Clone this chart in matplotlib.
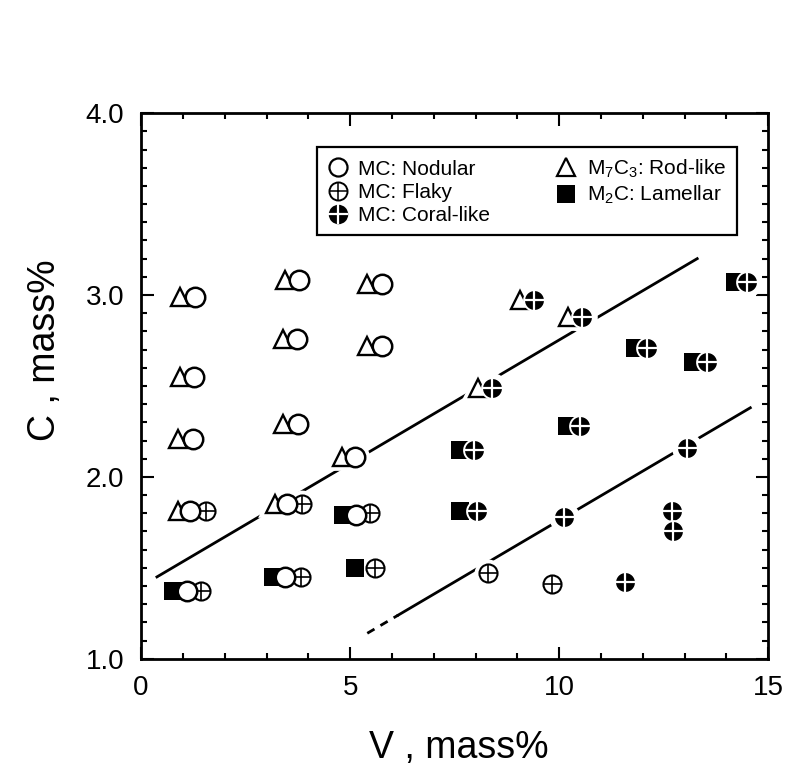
import matplotlib
matplotlib.use("Agg")
import matplotlib.pyplot as plt
from matplotlib.lines import Line2D
from matplotlib.ticker import MultipleLocator, FormatStrFormatter

plt.rcParams["font.family"] = ["Liberation Sans", "DejaVu Sans"]
plt.rcParams["mathtext.fontset"] = "custom"
plt.rcParams["mathtext.rm"] = "Liberation Sans"
plt.rcParams["mathtext.default"] = "regular"

# carbide morphology by alloy composition (V, C in mass%)
nodular_v = [1.29, 3.78, 5.77, 3.73, 5.77, 1.27, 3.76, 1.24, 5.12, 1.17, 3.49, 5.14, 1.10, 3.44]
nodular_c = [2.99, 3.08, 3.06, 2.76, 2.72, 2.55, 2.29, 2.21, 2.11, 1.81, 1.85, 1.79, 1.37, 1.45]

flaky_v = [1.56, 3.85, 5.48, 1.44, 3.83, 5.60, 8.30, 9.83]
flaky_c = [1.81, 1.85, 1.80, 1.37, 1.45, 1.50, 1.47, 1.41]

coral_v = [9.40, 10.55, 8.40, 12.10, 13.54, 14.50, 10.50, 7.97, 8.04, 10.12, 13.06, 12.70, 12.73, 11.58]
coral_c = [2.97, 2.88, 2.49, 2.71, 2.63, 3.07, 2.28, 2.15, 1.81, 1.78, 2.16, 1.81, 1.70, 1.42]

rod_v = [0.93, 3.44, 5.41, 3.40, 5.41, 0.93, 3.40, 0.89, 4.81, 0.89, 3.21, 9.07, 10.20, 8.06]
rod_c = [2.99, 3.08, 3.06, 2.76, 2.72, 2.55, 2.29, 2.21, 2.11, 1.81, 1.85, 2.97, 2.88, 2.49]

lamellar_v = [11.82, 13.20, 14.21, 10.19, 7.63, 7.63, 4.83, 0.77, 3.16, 5.12]
lamellar_c = [2.71, 2.63, 3.07, 2.28, 2.15, 1.81, 1.79, 1.37, 1.45, 1.50]

# boundary lines between morphology regions
upper_v = [0.38, 13.30]
upper_c = [1.45, 3.20]
lower_dash_v = [5.41, 6.15]
lower_dash_c = [1.14, 1.24]
lower_v = [6.15, 14.57]
lower_c = [1.24, 2.38]

fig = plt.figure(figsize=(7.88, 7.75), dpi=100)
ax = fig.add_axes([0.179, 0.150, 0.796, 0.704])

ax.plot(upper_v, upper_c, color="black", lw=2.0, zorder=2)
ax.plot(lower_v, lower_c, color="black", lw=2.0, zorder=2)
ax.plot(lower_dash_v, lower_dash_c, color="black", lw=2.0, ls=(0, (3, 2.5)), zorder=2)

# white halo under every marker so the lines break around them
for v, c, m, s in [(rod_v, rod_c, "^", 13), (lamellar_v, lamellar_c, "s", 13),
                   (flaky_v, flaky_c, "o", 13), (nodular_v, nodular_c, "o", 14),
                   (coral_v, coral_c, "o", 15)]:
    ax.plot(v, c, ls="none", marker=m, ms=s, mfc="white", mec="white", mew=7, zorder=3)

ax.plot(rod_v, rod_c, ls="none", marker="^", ms=13, mfc="white", mec="black", mew=1.7, zorder=4)
ax.plot(lamellar_v, lamellar_c, ls="none", marker="s", ms=13, mfc="black", mec="black", mew=0, zorder=5)
ax.plot(flaky_v, flaky_c, ls="none", marker="o", ms=13, mfc="white", mec="black", mew=1.5, zorder=6)
ax.plot(flaky_v, flaky_c, ls="none", marker="+", ms=13, mec="black", mew=1.2, zorder=6.1)
ax.plot(nodular_v, nodular_c, ls="none", marker="o", ms=14, mfc="white", mec="black", mew=1.8, zorder=7)
ax.plot(coral_v, coral_c, ls="none", marker="o", ms=15, mfc="black", mec="white", mew=1.4, zorder=8)
ax.plot(coral_v, coral_c, ls="none", marker="+", ms=14, mec="white", mew=1.6, zorder=8.1)

ax.set_xlim(0, 15)
ax.set_ylim(1.0, 4.0)
ax.xaxis.set_major_locator(MultipleLocator(5))
ax.xaxis.set_minor_locator(MultipleLocator(1))
ax.yaxis.set_major_locator(MultipleLocator(1))
ax.yaxis.set_minor_locator(MultipleLocator(0.1))
ax.yaxis.set_major_formatter(FormatStrFormatter("%.1f"))
ax.tick_params(which="both", direction="in", top=True, right=True, width=1.5)
ax.tick_params(which="major", length=9, labelsize=20, pad=12)
ax.tick_params(which="minor", length=4.5)
for sp in ax.spines.values():
    sp.set_linewidth(2.0)

ax.set_xlabel("V , mass%", fontsize=27)
ax.set_ylabel("C , mass%", fontsize=27)
ax.xaxis.set_label_coords(0.507, -0.13)
ax.yaxis.set_label_coords(-0.124, 0.566)

# legend: overlay tuples build the flaky and coral-like symbols
h_nod = Line2D([], [], ls="none", marker="o", ms=13, mfc="white", mec="black", mew=1.6)
h_flaky = (Line2D([], [], ls="none", marker="o", ms=13, mfc="white", mec="black", mew=1.4),
           Line2D([], [], ls="none", marker="+", ms=13, mec="black", mew=1.1))
h_coral = (Line2D([], [], ls="none", marker="o", ms=14, mfc="black", mec="black", mew=0),
           Line2D([], [], ls="none", marker="+", ms=14, mec="white", mew=1.6))
h_rod = Line2D([], [], ls="none", marker="^", ms=13, mfc="white", mec="black", mew=1.6)
h_lam = Line2D([], [], ls="none", marker="s", ms=13, mfc="black", mec="black", mew=0)

leg = ax.legend([h_nod, h_flaky, h_coral, h_rod, h_lam],
                ["MC: Nodular", "MC: Flaky", "MC: Coral-like",
                 "M$_7$C$_3$: Rod-like", "M$_2$C: Lamellar"],
                ncol=2, loc="upper left", mode="expand",
                bbox_to_anchor=(0.402, 0.69, 0.533, 0.12), bbox_transform=fig.transFigure,
                borderaxespad=0, fontsize=15, handlelength=1.0, handletextpad=0.5,
                labelspacing=0.2, borderpad=0.5, frameon=True, fancybox=False,
                framealpha=1, edgecolor="black")
leg.get_frame().set_linewidth(1.6)

fig.savefig("out.png", dpi=100)
